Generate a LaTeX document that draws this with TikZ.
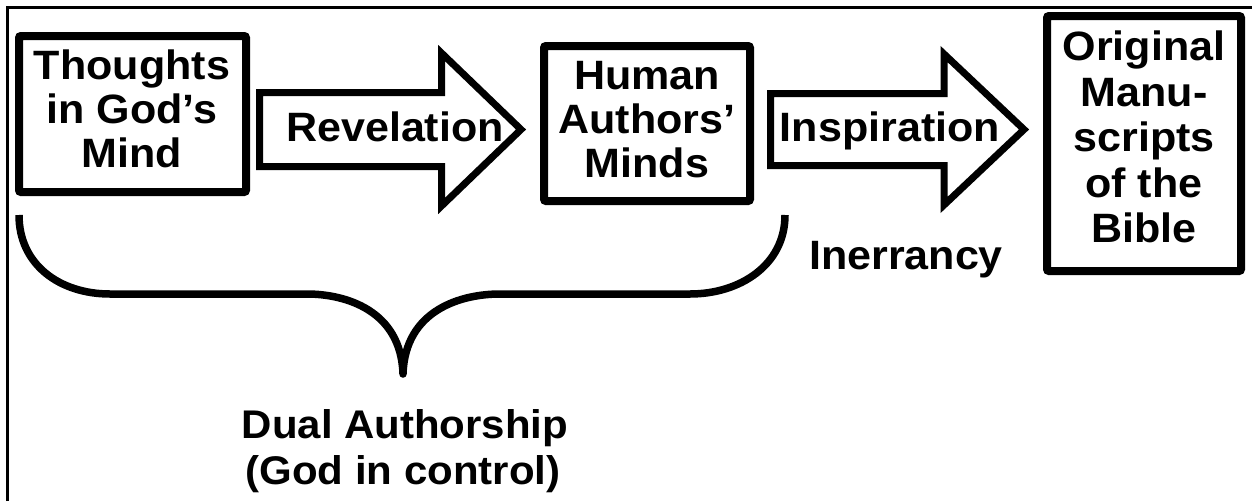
\documentclass[tikz,border=0pt]{standalone}
\usepackage{fontspec}
\newfontfamily\lblfam{Liberation Sans}[FakeStretch=1.05]
\newcommand\lblfont{\lblfam\bfseries\fontsize{41}{44}\selectfont}
\tikzset{
  box/.style={draw, line width=8pt, rounded corners=2pt, inner sep=0pt},
  blockarrow/.style={draw, line width=7pt, line join=miter},
  lbl/.style={font=\lblfont, align=center, inner sep=0pt},
  brace/.style={draw, line width=7.5pt, line join=round},
  frame/.style={draw, line width=2.5pt}
}
\begin{document}
\begin{tikzpicture}[x=1pt,y=-1pt]
\useasboundingbox (0,0) rectangle (1252,501);
\draw[frame] (7.5,501) -- (7.5,7.5) -- (1252,7.5);

% boxes
\node[box, minimum width=227pt, minimum height=156pt] (b1) at (132.5,114) {};
\node[lbl] (t1) at (132,108.5) {Thoughts\\in God’s\\Mind};

\node[box, minimum width=206pt, minimum height=155pt] (b2) at (647,123.5) {};
\node[lbl] (t2) at (647,120) {Human\\Authors’\\Minds};

\node[box, minimum width=194pt, minimum height=255pt] (b3) at (1144,143.5) {};
\node[lbl, font=\lblfont\fontsize{41}{45.5}\selectfont] (t3) at (1144,137) {Original\\Manu-\\scripts\\of the\\Bible};

% block arrows
\draw[blockarrow] (259.5,92.5) -- (441.5,92.5) -- (441.5,53) -- (521,129.5)
  -- (441.5,206) -- (441.5,166.5) -- (259.5,166.5) -- cycle;
\node[lbl, anchor=base] (rev) at (395,141) {Revelation};

\draw[blockarrow] (770.5,93.5) -- (944,93.5) -- (944,54) -- (1024,129.5)
  -- (944,205) -- (944,165.5) -- (770.5,165.5) -- cycle;
\node[lbl, anchor=base] (insp) at (890,141) {Inspiration};

\node[lbl, anchor=base] (inerr) at (906,269) {Inerrancy};

% brace
\coordinate (bl) at (19,215);
\coordinate (br) at (785,215);
\coordinate (cusp) at (403,374);
\draw[brace] (bl) .. controls (19,265) and (60,294) .. (110,294) -- (307,294)
  .. controls (345,294) and (401,310) .. (cusp)
  .. controls (405,310) and (461,294) .. (500,294) -- (690,294)
  .. controls (740,294) and (785,265) .. (br);

\node[lbl, anchor=base, font=\lblfam\bfseries\fontsize{40}{46}\selectfont] (dual) at (405,438) {Dual Authorship};
\node[lbl, anchor=base, font=\lblfam\bfseries\fontsize{40}{46}\selectfont] (ctrl) at (403,484) {(God in control)};
\end{tikzpicture}
\end{document}
